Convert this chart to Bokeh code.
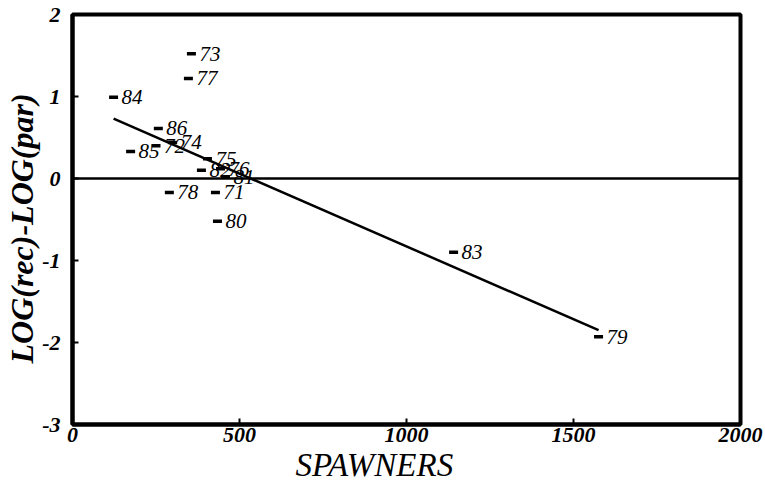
from bokeh.plotting import figure
from bokeh.models import ColumnDataSource, Span, FixedTicker, Title
from bokeh.core.properties import value
from bokeh.embed import file_html
from bokeh.resources import INLINE

# data
years = ["73", "77", "84", "86", "72", "74", "85", "75", "82", "76", "81", "71", "78", "80", "83", "79"]
spawners = [356, 347, 123, 257, 250, 300, 174, 404, 386, 443, 458, 428, 290, 434, 1141, 1575]
resid = [1.52, 1.22, 0.99, 0.61, 0.40, 0.44, 0.33, 0.24, 0.10, 0.12, 0.02, -0.17, -0.17, -0.52, -0.90, -1.93]
fit_x = [123, 1575]
fit_y = [0.73, -1.85]
x_ticks = [0, 500, 1000, 1500, 2000]
y_ticks = [-3, -2, -1, 0, 1, 2]
x_title = "SPAWNERS"
y_title = "LOG(rec)-LOG(par)"

SERIF = "Liberation Serif"

p = figure(width=765, height=492, x_range=(0, 2000), y_range=(-3, 2),
           output_backend="svg", toolbar_location=None,
           min_border_left=72, min_border_right=25, min_border_top=14, min_border_bottom=68)
p.background_fill_color = "white"
p.border_fill_color = "white"
p.grid.visible = False
p.outline_line_color = "black"
p.outline_line_width = 4

for ax, ticks in ((p.xaxis, x_ticks), (p.yaxis, y_ticks)):
    ax.ticker = FixedTicker(ticks=ticks)
    ax.major_label_overrides = {t: str(t) for t in ticks}
    ax.axis_line_color = "black"
    ax.axis_line_width = 4
    ax.major_tick_in = 6
    ax.major_tick_out = 0
    ax.major_tick_line_width = 2
    ax.minor_tick_line_color = None
    ax.major_label_text_font = SERIF
    ax.major_label_text_font_style = "bold italic"
    ax.major_label_text_font_size = "22px"
    ax.major_label_text_color = "black"

p.xaxis.major_label_standoff = 3
p.yaxis.major_label_standoff = 12

p.add_layout(Title(text=x_title, align="left", offset=223, standoff=0,
                   text_font=SERIF, text_font_style="italic", text_font_size="33px",
                   text_color="black"), "below")
p.add_layout(Title(text=y_title, align="left", offset=61, standoff=0,
                   text_font=SERIF, text_font_style="bold italic", text_font_size="32px",
                   text_color="black"), "left")

p.add_layout(Span(location=0, dimension="width", line_color="black", line_width=2.5))

src = ColumnDataSource(dict(x=spawners, y=resid, t=years))
p.line(fit_x, fit_y, line_color="black", line_width=2.5)
p.scatter("x", "y", source=src, marker="dash", size=9, line_width=3.5, line_color="black")
p.text("x", "y", text="t", source=src, x_offset=8, text_baseline="middle",
       text_font=value(SERIF), text_font_style="italic", text_font_size="21px", text_color="black")

open("out.html", "w").write(file_html(p, INLINE))
